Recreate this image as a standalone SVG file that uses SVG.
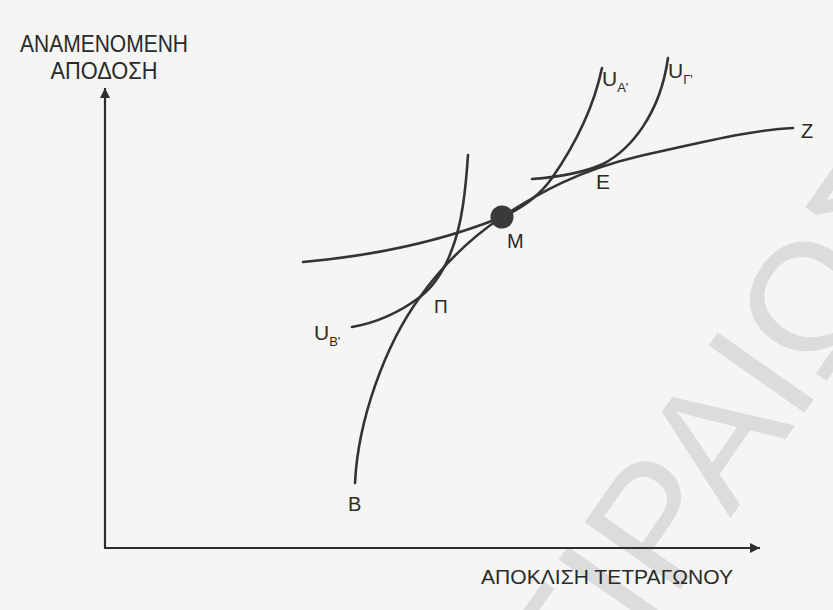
<svg xmlns="http://www.w3.org/2000/svg" width="833" height="610" viewBox="0 0 833 610">
<defs>
<style>
.bg{fill:#f5f5f3}
.wm{font-family:"Liberation Sans",Arial,sans-serif;font-size:170px;fill:#dcdcdc}
.axis{stroke:#2e2e2e;stroke-width:2.2;fill:none}
.curve{stroke:#333333;stroke-width:2.6;fill:none;stroke-linecap:round}
.lbl{font-family:"Liberation Sans",Arial,sans-serif;fill:#2a2a2a;font-size:20px}
.sub{font-size:13px}
</style>
<marker id="ah" viewBox="0 0 10 10" refX="10" refY="5" markerWidth="14" markerHeight="10" markerUnits="userSpaceOnUse" orient="auto">
<path d="M0,0 L10,5 L0,10 z" fill="#2e2e2e"/>
</marker>
</defs>
<rect class="bg" x="0" y="0" width="833" height="610"/>
<text class="wm" transform="translate(510,833) rotate(-55)">ΠΕΙΡΑΙΩΣ</text>

<g id="axes">
<path id="y-axis" class="axis" d="M105,548 L105,88" marker-end="url(#ah)"/>
<path id="x-axis" class="axis" d="M104,548 L760,548" marker-end="url(#ah)"/>
<text class="lbl" x="104" y="52" text-anchor="middle" font-size="24" textLength="168" lengthAdjust="spacingAndGlyphs" style="font-size:24px">ΑΝΑΜΕΝΟΜΕΝΗ</text>
<text class="lbl" x="104" y="79" text-anchor="middle" textLength="107" lengthAdjust="spacingAndGlyphs" style="font-size:24px">ΑΠΟΔΟΣΗ</text>
<text class="lbl" x="481" y="584" textLength="252" lengthAdjust="spacingAndGlyphs" style="font-size:21px">ΑΠΟΚΛΙΣΗ ΤΕΤΡΑΓΩΝΟΥ</text>
</g>

<g id="connectors">
<path id="frontier" class="curve" d="M355,483 C358,420 385,345 420,297 C445,262 475,235 502,217 C540,192 580,170 640,156 C700,143 750,130 793,128"/>
<path id="U-A" class="curve" d="M303,262 C370,256 440,242 502,217 C525,207 540,195 552,178 C568,155 592,115 602,68"/>
<path id="U-G" class="curve" d="M532,179 C560,177 585,172 603,164 C630,150 660,115 668,58"/>
<path id="U-B" class="curve" d="M352,327 C375,323 400,312 420,297 C445,278 458,240 463,205 C466,185 467,170 468,155"/>
</g>

<g id="node-M">
<circle cx="502" cy="217" r="11.5" fill="#3a3a3a"/>
<text class="lbl" x="507" y="248">M</text>
</g>
<g id="node-P">
<text class="lbl" x="434" y="313" style="font-size:19px">Π</text>
</g>
<g id="node-E">
<text class="lbl" x="596" y="189" style="font-size:21px">E</text>
</g>
<g id="node-Z">
<text class="lbl" x="801" y="138">Z</text>
</g>
<g id="node-B">
<text class="lbl" x="348" y="511">B</text>
</g>
<g id="label-UA">
<text class="lbl" x="602" y="86" style="font-size:21px">U<tspan class="sub" dy="6">A'</tspan></text>
</g>
<g id="label-UG">
<text class="lbl" x="668" y="78" style="font-size:21px">U<tspan class="sub" dy="6">Γ'</tspan></text>
</g>
<g id="label-UB">
<text class="lbl" x="314" y="340" style="font-size:21px">U<tspan class="sub" dy="6">B'</tspan></text>
</g>
</svg>
